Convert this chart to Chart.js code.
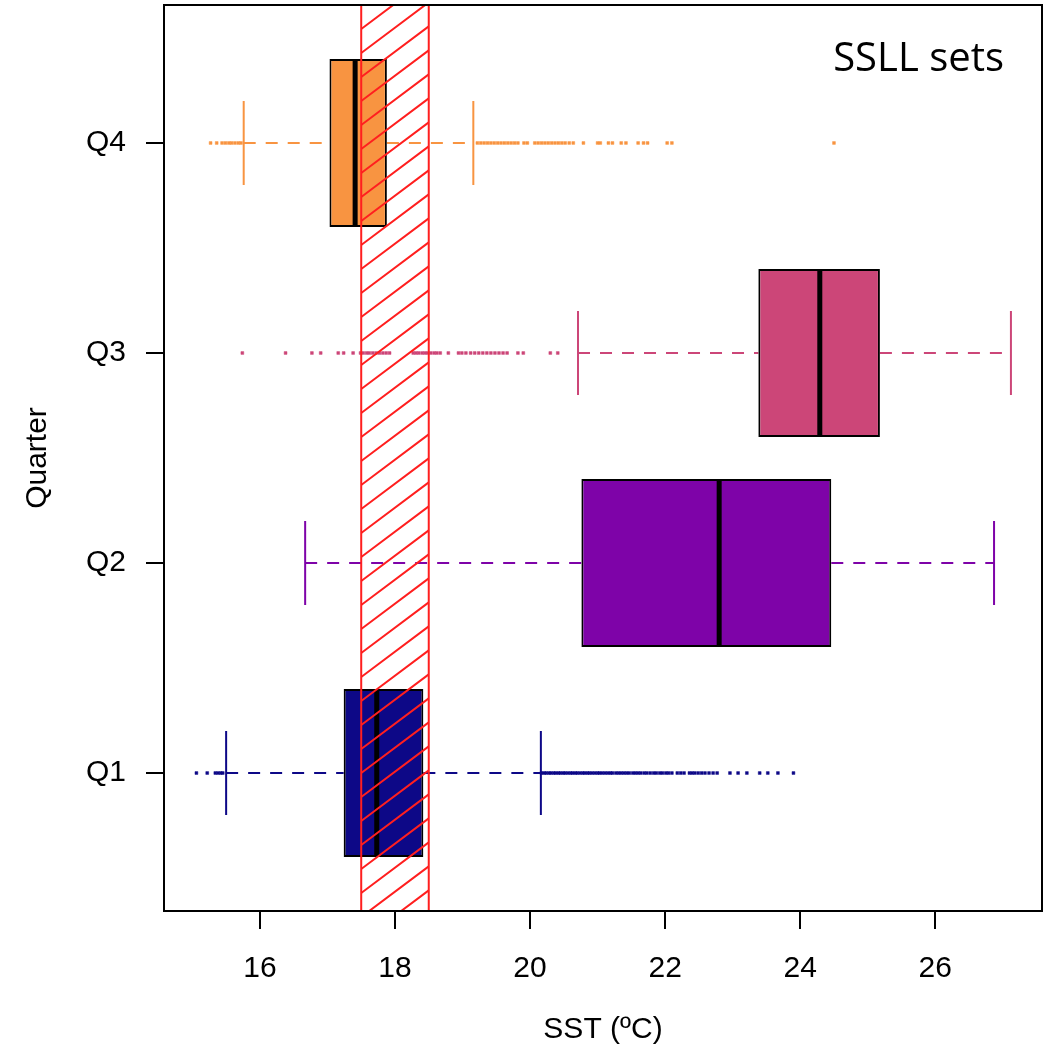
<!DOCTYPE html>
<html>
<head>
<meta charset="utf-8">
<script src="https://cdn.jsdelivr.net/npm/chart.js@4.4.1/dist/chart.umd.min.js"></script>
<style>
  body { margin: 0; background: #fff; }
</style>
</head>
<body>
<canvas id="sstChart" width="1053" height="1055"></canvas>
<script>
// Data (SST by quarter)
const quarters = ['Q1', 'Q2', 'Q3', 'Q4'];
const quarterPos = [1, 2, 3, 4];
const quarterColors = ['#0D0887', '#7E03A8', '#CC4678', '#F89441'];
const whiskerLow = [15.50, 16.67, 20.71, 15.76];
const boxLow = [17.24, 20.76, 23.38, 17.03];
const medians = [17.73, 22.80, 24.29, 17.41];
const boxHigh = [18.42, 24.46, 25.18, 17.88];
const whiskerHigh = [20.16, 26.87, 27.12, 19.16];

const outliersQ1 = [15.06, 15.22, 15.34, 15.38, 15.42, 15.45,
  20.17, 20.21, 20.24, 20.28, 20.31, 20.35, 20.38, 20.42, 20.45, 20.49, 20.52, 20.56, 20.60,
  20.63, 20.67, 20.70, 20.74, 20.78, 20.81, 20.85, 20.88, 20.92, 20.96, 21.00, 21.03, 21.07,
  21.11, 21.15, 21.19, 21.22, 21.27, 21.31, 21.35, 21.39, 21.43, 21.47, 21.52, 21.56, 21.60,
  21.64, 21.69, 21.73, 21.78, 21.83, 21.87, 21.92, 21.96, 22.01, 22.05, 22.10, 22.18, 22.23,
  22.28, 22.36, 22.40, 22.44, 22.49, 22.54, 22.59, 22.65, 22.71, 22.77,
  22.96, 23.08, 23.21, 23.40, 23.52, 23.67, 23.90];
const outliersQ2 = [];
const outliersQ3 = [15.74, 16.38, 16.77, 16.90, 17.16, 17.24, 17.38, 17.49, 17.53, 17.58, 17.62,
  17.67, 17.72, 17.77, 17.82, 17.87, 17.92, 18.27, 18.31, 18.35, 18.40, 18.44, 18.48, 18.53,
  18.58, 18.62, 18.67, 18.79, 18.94, 18.99, 19.05, 19.12, 19.18, 19.24, 19.30, 19.36, 19.42,
  19.48, 19.54, 19.60, 19.66, 19.82, 19.90, 20.30, 20.41];
const outliersQ4 = [15.27, 15.36, 15.44, 15.49, 15.54, 15.58, 15.63, 15.68, 15.72,
  19.22, 19.27, 19.32, 19.37, 19.42, 19.47, 19.52, 19.57, 19.62, 19.67, 19.72, 19.77, 19.82,
  19.91, 19.96, 20.07, 20.12, 20.17, 20.22, 20.27, 20.32, 20.37, 20.42, 20.47, 20.52, 20.58,
  20.64, 20.79, 21.00, 21.04, 21.16, 21.22, 21.35, 21.42, 21.60, 21.68, 21.74, 22.03, 22.10,
  24.50];
const outliers = [outliersQ1, outliersQ2, outliersQ3, outliersQ4];

const xTicks = [16, 18, 20, 22, 24, 26];
const xMin = 14.58, xMax = 27.58;
const yMin = 0.343, yMax = 4.657;
const bandLow = 17.5, bandHigh = 18.5;   // hatched reference band
const boxHalf = 0.4, capHalf = 0.2;

const gap = {x: null, y: null};
const datasets = [];

// medians (drawn on top)
const medianData = [];
quarterPos.forEach((q, i) => {
    medianData.push({x: medians[i], y: q - boxHalf}, {x: medians[i], y: q + boxHalf}, gap);
});
datasets.push({
    type: 'line',
    order: 0,
    data: medianData,
    borderColor: '#000',
    borderWidth: 5,
    borderCapStyle: 'butt',
    pointRadius: 0,
    spanGaps: false
});

// boxes as floating bars
datasets.push({
    type: 'bar',
    indexAxis: 'y',
    order: 1,
    data: quarterPos.map((q, i) => ({x: [boxLow[i], boxHigh[i]], y: q})),
    backgroundColor: quarterColors,
    borderColor: '#000',
    borderWidth: 2,
    borderSkipped: false,
    barPercentage: 1,
    categoryPercentage: 0.8
});

quarterPos.forEach((q, i) => {
    const col = quarterColors[i];
    // dashed whiskers
    datasets.push({
        type: 'line',
        order: 2,
        data: [{x: whiskerLow[i], y: q}, {x: boxLow[i], y: q}, gap,
               {x: boxHigh[i], y: q}, {x: whiskerHigh[i], y: q}],
        borderColor: col,
        borderWidth: 2,
        borderDash: [12, 10],
        pointRadius: 0,
        spanGaps: false
    });
    // whisker caps
    datasets.push({
        type: 'line',
        order: 2,
        data: [{x: whiskerLow[i], y: q - capHalf}, {x: whiskerLow[i], y: q + capHalf}, gap,
               {x: whiskerHigh[i], y: q - capHalf}, {x: whiskerHigh[i], y: q + capHalf}],
        borderColor: col,
        borderWidth: 2,
        pointRadius: 0,
        spanGaps: false
    });
    // outliers
    datasets.push({
        type: 'scatter',
        order: 2,
        data: outliers[i].map(v => ({x: v, y: q})),
        backgroundColor: col,
        borderColor: col,
        borderWidth: 0.5,
        pointStyle: 'rect',
        pointRadius: 2
    });
});

const decorPlugin = {
    id: 'decor',
    afterDatasetsDraw(chart) {
        const ctx = chart.ctx;
        const xs = chart.scales.x;
        const {left, right, top, bottom} = chart.chartArea;
        const x0 = xs.getPixelForValue(bandLow);
        const x1 = xs.getPixelForValue(bandHigh);
        const w = x1 - x0;
        const slope = 0.75, step = 24;

        // hatch
        ctx.save();
        ctx.beginPath();
        ctx.rect(x0, top, w, bottom - top);
        ctx.clip();
        ctx.strokeStyle = '#FF1F1F';
        ctx.lineWidth = 2;
        ctx.beginPath();
        for (let y = top; y <= bottom + w * slope + step; y += step) {
            ctx.moveTo(x0, y);
            ctx.lineTo(x1, y - w * slope);
        }
        ctx.stroke();
        ctx.restore();

        ctx.save();
        ctx.strokeStyle = '#FF1F1F';
        ctx.lineWidth = 2;
        ctx.beginPath();
        ctx.moveTo(x0, top); ctx.lineTo(x0, bottom);
        ctx.moveTo(x1, top); ctx.lineTo(x1, bottom);
        ctx.stroke();

        // frame
        ctx.strokeStyle = '#000';
        ctx.lineWidth = 2;
        ctx.strokeRect(left, top, right - left, bottom - top);

        // label
        ctx.fillStyle = '#000';
        ctx.font = '40px "Open Sans"';
        ctx.textAlign = 'right';
        ctx.textBaseline = 'middle';
        ctx.fillText('SSLL sets', right - 38, top + 55);
        ctx.restore();
    }
};

const axisFont = {family: '"Liberation Sans"', size: 30};

new Chart(document.getElementById('sstChart'), {
    type: 'scatter',
    data: {datasets: datasets},
    plugins: [decorPlugin],
    options: {
        responsive: false,
        animation: false,
        layout: {padding: {top: 5, right: 11, left: 0, bottom: 0}},
        plugins: {
            legend: {display: false},
            tooltip: {enabled: false}
        },
        scales: {
            x: {
                type: 'linear',
                min: xMin,
                max: xMax,
                offset: false,
                afterBuildTicks: s => { s.ticks = xTicks.map(v => ({value: v})); },
                afterFit: s => { s.height = 144; s.paddingLeft = 0; s.paddingRight = 0; },
                grid: {offset: false, drawOnChartArea: false, drawTicks: true, tickLength: 18, color: '#000', lineWidth: 2},
                border: {display: false},
                ticks: {
                    font: axisFont,
                    color: '#000',
                    padding: 22,
                    maxRotation: 0
                },
                title: {
                    display: true,
                    text: 'SST (ºC)',
                    font: axisFont,
                    color: '#000',
                    padding: {top: 0, bottom: 7}
                }
            },
            y: {
                type: 'linear',
                min: yMin,
                max: yMax,
                offset: false,
                afterBuildTicks: s => { s.ticks = quarterPos.map(v => ({value: v})); },
                afterFit: s => { s.width = 164; s.paddingTop = 0; s.paddingBottom = 0; },
                grid: {offset: false, drawOnChartArea: false, drawTicks: true, tickLength: 18, color: '#000', lineWidth: 2},
                border: {display: false},
                ticks: {
                    font: axisFont,
                    color: '#000',
                    padding: 20,
                    callback: v => quarters[quarterPos.indexOf(v)]
                },
                title: {
                    display: true,
                    text: 'Quarter',
                    font: axisFont,
                    color: '#000',
                    padding: {top: 20, bottom: 0}
                }
            }
        }
    }
});
</script>
</body>
</html>
